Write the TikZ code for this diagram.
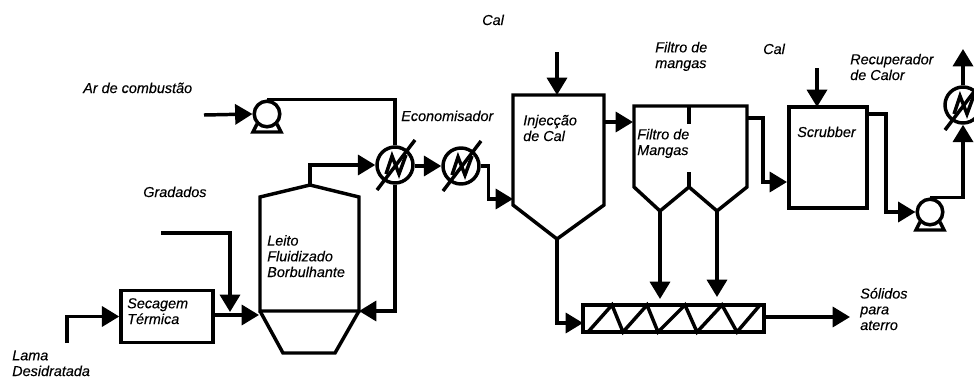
\documentclass[tikz,border=0pt]{standalone}
\usepackage{fontspec}
\newfontfamily\lblfont{Liberation Sans}[FakeBold=0.25]
\usetikzlibrary{arrows.meta}

\begin{document}
\begin{tikzpicture}[x=0.75pt,y=-0.75pt,>={Triangle[length=13pt,width=15pt]},
    pipe/.style={line width=2.6pt,line join=miter},
    flow/.style={pipe,->},
    txt/.style={font=\lblfont\fontsize{10.8}{11.8}\selectfont\itshape,align=left,anchor=base west,inner sep=0pt},
    hx/.style={circle,draw,line width=2.6pt,minimum size=27pt,inner sep=0pt},
    fan/.style={circle,draw,line width=2.6pt,minimum size=19.2pt,inner sep=0pt},
    box/.style={rectangle,draw,line width=2.6pt,inner sep=0pt}]
  \useasboundingbox (0,0) rectangle (974,379);

  \node[hx] (hxa) at (395,165) {};
  \node[hx] (hxb) at (461,166) {};
  \node[hx] (hxc) at (963,105) {};
  \node[fan] (fana) at (267,114) {};
  \node[fan] (fanb) at (930,212) {};
  \node[box,minimum width=69pt,minimum height=39pt] (dryer) at (167,316.5) {};
  \node[box,minimum width=58.5pt,minimum height=75.75pt] (scrubber) at (828,157.5) {};
  \node[box,minimum width=135.75pt,minimum height=20.25pt] (screw) at (673.5,318.5) {};

  \foreach \n in {hxa,hxb,hxc} {
    \draw[pipe,shift={(\n)}] (-18,25) -- (20,-25);
    \draw[pipe,shift={(\n)}] (-9,9) -- (-3,-9) -- (4,9) -- (11,-10);
  }
  \foreach \n in {fana,fanb} {
    \draw[pipe,shift={(\n)}] (-10,10) -- (-14,18) -- (14,18) -- (10,10);
  }

  \coordinate (leitotop) at (310,185);
  \coordinate (leitoin) at (259,315);
  \coordinate (leitoret) at (359,311);
  \draw[pipe] (260,311) -- (260,197) -- (leitotop) -- (359,197) -- (leitoret) -- cycle;
  \draw[pipe] (260,311) -- (283,353) -- (335,353) -- (leitoret);

  \coordinate (injtop) at (557,95);
  \coordinate (injbot) at (557,239);
  \coordinate (injin) at (513,199);
  \coordinate (injout) at (604,122);
  \draw[pipe] (injtop) -- (513,95) -- (513,205) -- (injbot) -- (604,205) -- (604,95) -- cycle;

  \coordinate (filin) at (633,122);
  \coordinate (filout) at (747,118);
  \coordinate (filbota) at (660,211);
  \coordinate (filbotb) at (717,211);
  \draw[pipe] (634,106) -- (747,106) -- (747,187) -- (filbotb) -- (689,187) -- (filbota) -- (634,187) -- cycle;
  \draw[pipe] (689,106) -- (689,124);
  \draw[pipe] (689,172) -- (689,187);

  \coordinate (screwin) at (583,323);
  \coordinate (screwout) at (764,317);
  \coordinate (screwa) at (660,299);
  \coordinate (screwb) at (717,297);
  \draw[pipe] (588,332) -- (612,305) -- (623,332) -- (647,305) -- (658,332) -- (685,305)
    -- (697,332) -- (722,305) -- (737,332) -- (760,305);

  \coordinate (lamain) at (67,343);
  \coordinate (gradin) at (161,233);
  \coordinate (gradend) at (230,312);
  \coordinate (arin) at (204,115);
  \coordinate (calain) at (557,52);
  \coordinate (calbin) at (817,68);
  \coordinate (scrubtop) at (817,107);
  \coordinate (scrubin) at (787,182);
  \coordinate (scrubout) at (867,114);
  \coordinate (solout) at (850,317);
  \coordinate (gasout) at (963,49);

  \draw[flow] (lamain) |- (dryer.west);
  \draw[flow] (dryer.east |- leitoin) -- (leitoin);
  \draw[flow] (gradin) -| (gradend);
  \draw[flow] (arin) -- (fana.west);
  \draw[pipe] (fana.north) -| (hxa.north);
  \draw[flow] (hxa.south) |- (leitoret);
  \draw[flow] (leitotop) |- (hxa.west);
  \draw[flow] (hxa.east |- hxb) -- (hxb.west);
  \draw[flow] (hxb.east) -- ++(8,0) |- (injin);
  \draw[flow] (calain) -- (injtop);
  \draw[flow] (injout) -- (filin);
  \draw[flow] (injbot) |- (screwin);
  \draw[flow] (filbota) -- (screwa);
  \draw[flow] (filbotb) -- (screwb);
  \draw[flow] (screwout) -- (solout);
  \draw[flow] (filout) -- ++(16,0) |- (scrubin);
  \draw[flow] (calbin) -- (scrubtop);
  \draw[flow] (scrubout) -- ++(19,0) |- (fanb.west);
  \draw[flow] (fanb.north) -| (hxc.south);
  \draw[flow] (hxc.north) -- (gasout);

  \node[txt] (tar) at (83,93) {Ar de combustão};
  \node[txt] (teco) at (401,121) {Economisador};
  \node[txt] (tgrad) at (143,197) {Gradados};
  \node[txt] (tleito) at (267,277) {Leito\\Fluidizado\\Borbulhante};
  \node[txt] (tsec) at (127,324) {Secagem\\Térmica};
  \node[txt] (tlama) at (12,376) {Lama\\Desidratada};
  \node[txt] (tcala) at (482,25) {Cal};
  \node[txt] (tfila) at (655,68) {Filtro de\\mangas};
  \node[txt] (tcalb) at (763,54) {Cal};
  \node[txt] (trec) at (850,80) {Recuperador\\de Calor};
  \node[txt] (tinj) at (523,141) {Injecção\\de Cal};
  \node[txt] (tfilb) at (637,155) {Filtro de\\Mangas};
  \node[txt] (tscr) at (797,137) {Scrubber};
  \node[txt] (tsol) at (860,330) {Sólidos\\para\\aterro};
\end{tikzpicture}
\end{document}
